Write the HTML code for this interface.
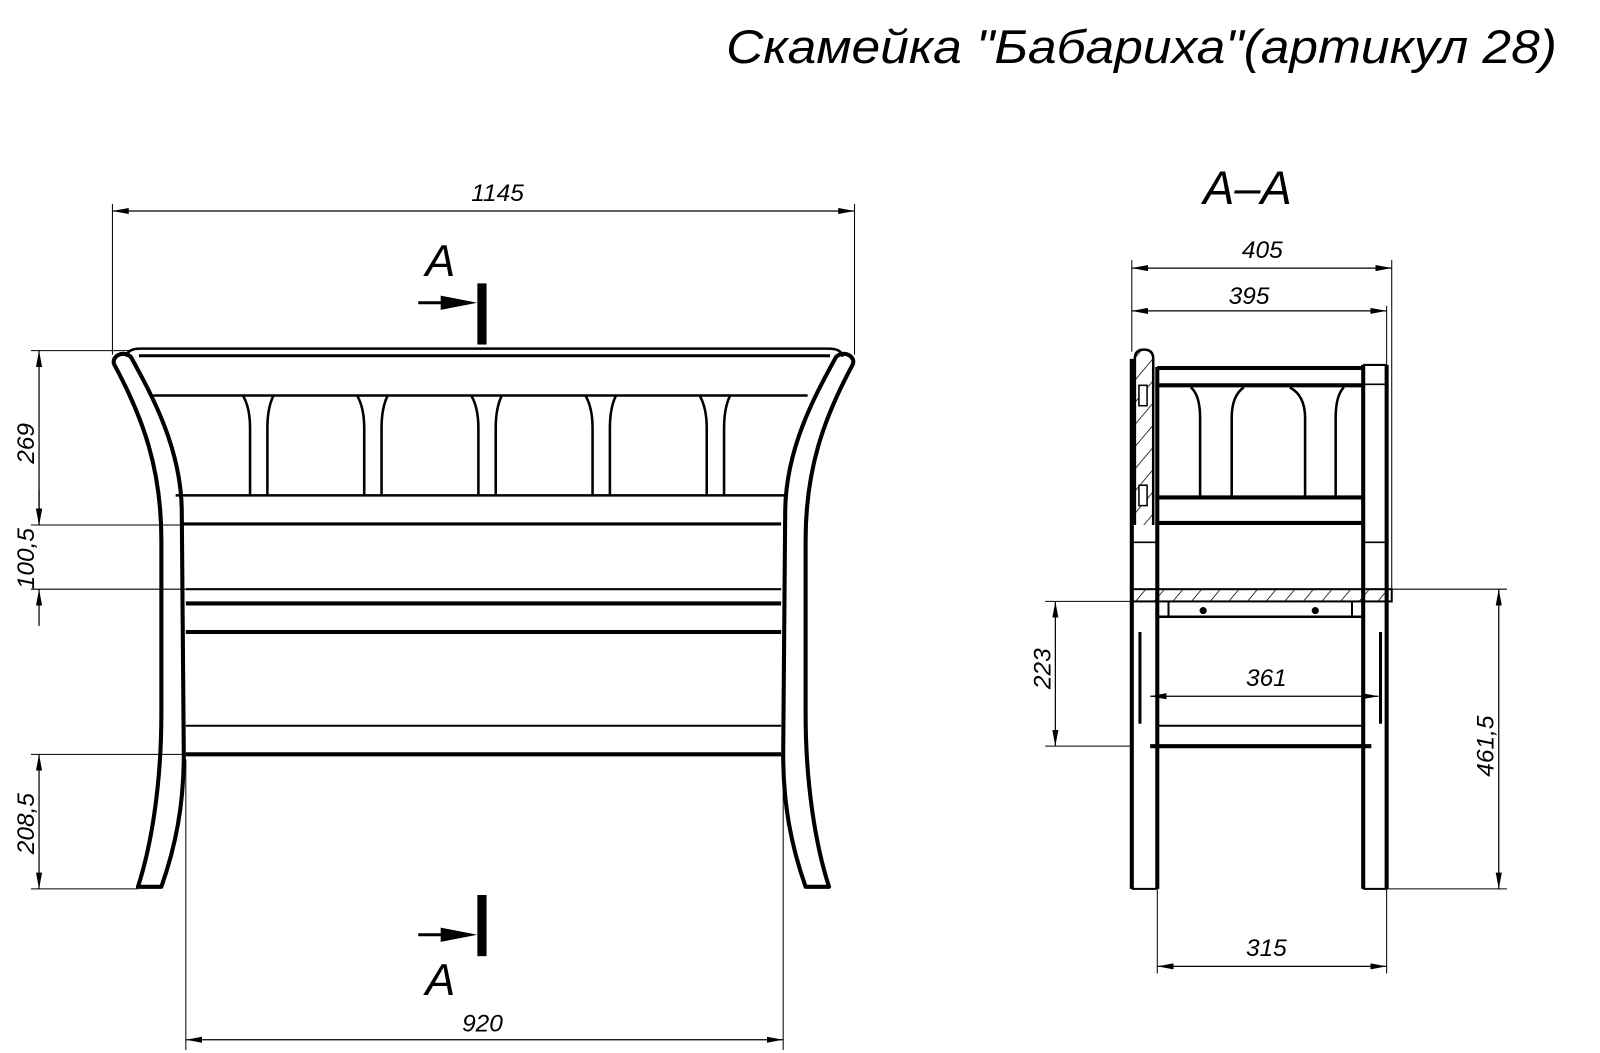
<!DOCTYPE html>
<html><head><meta charset="utf-8"><style>
html,body{margin:0;padding:0;background:#fff;}
svg{display:block;}
text{font-family:"Liberation Sans","DejaVu Sans",sans-serif;font-style:italic;fill:#000;}
</style></head><body>
<svg width="1600" height="1053" viewBox="0 0 1569 1033" xmlns="http://www.w3.org/2000/svg">
<defs>
<marker id="ar" viewBox="0 0 16 6" refX="16" refY="3" markerWidth="16" markerHeight="6" markerUnits="userSpaceOnUse" orient="auto-start-reverse"><path d="M0,0 L16,3 L0,6 z" fill="#000"/></marker>
<pattern id="h" width="14" height="14" patternUnits="userSpaceOnUse" patternTransform="rotate(40)"><line x1="0" y1="0" x2="0" y2="14" stroke="#000" stroke-width="1.5"/></pattern>
<g id="leg">
<path d="M112,358 C140,410 158,460 158,530 L158,700 C158,770 148,830 135,870 L158,870 C172,830 180,790 180,740 L178,500 C177,440 150,390 128,350 C120,343 108,350 112,358 Z" fill="none" stroke="#000" stroke-width="4" stroke-linejoin="round"/>
</g>
</defs>

<text x="712" y="62" font-size="46" textLength="815" lengthAdjust="spacingAndGlyphs">Скамейка "Бабариха"(артикул 28)</text>

<!-- FRONT VIEW -->
<g stroke="#000" fill="none">
<line x1="110" y1="200" x2="110" y2="348" stroke-width="1"/>
<line x1="838" y1="200" x2="838" y2="348" stroke-width="1"/>
<line x1="110" y1="207" x2="838" y2="207" stroke-width="1.2" marker-start="url(#ar)" marker-end="url(#ar)"/>
<path d="M138,342 L812,342 Q826,342 826,350" stroke-width="2.5"/>
<path d="M138,342 Q124,342 124,350" stroke-width="2.5"/>
<line x1="136" y1="349" x2="814" y2="349" stroke-width="3"/>
<line x1="150" y1="388" x2="792" y2="388" stroke-width="2.5"/>
<line x1="172" y1="486" x2="770" y2="486" stroke-width="2.5"/>
<line x1="178" y1="514" x2="766" y2="514" stroke-width="3"/>
<line x1="182" y1="578" x2="766" y2="578" stroke-width="2"/>
<line x1="182" y1="592" x2="766" y2="592" stroke-width="4"/>
<line x1="182" y1="620" x2="766" y2="620" stroke-width="4"/>
<line x1="182" y1="712" x2="766" y2="712" stroke-width="2"/>
<line x1="182" y1="740" x2="766" y2="740" stroke-width="4"/>
<g stroke-width="2.5">
<path d="M238,388 Q245,400 245,420 L245,486"/><path d="M268,388 Q262,400 262,420 L262,486"/>
<path d="M350,388 Q357,400 357,420 L357,486"/><path d="M380,388 Q374,400 374,420 L374,486"/>
<path d="M462,388 Q469,400 469,420 L469,486"/><path d="M492,388 Q486,400 486,420 L486,486"/>
<path d="M574,388 Q581,400 581,420 L581,486"/><path d="M604,388 Q598,400 598,420 L598,486"/>
<path d="M686,388 Q693,400 693,420 L693,486"/><path d="M716,388 Q710,400 710,420 L710,486"/>
</g>
</g>
<use href="#leg"/>
<use href="#leg" transform="translate(948,0) scale(-1,1)"/>

<g stroke="#000" fill="none" stroke-width="1">
<line x1="30" y1="344" x2="128" y2="344"/>
<line x1="30" y1="515" x2="178" y2="515"/>
<line x1="30" y1="578" x2="182" y2="578"/>
<line x1="30" y1="740" x2="182" y2="740"/>
<line x1="30" y1="872" x2="135" y2="872"/>
<line x1="38" y1="344" x2="38" y2="515" stroke-width="1.2" marker-start="url(#ar)" marker-end="url(#ar)"/>
<line x1="38" y1="480" x2="38" y2="515" stroke-width="1.2" marker-end="url(#ar)"/>
<line x1="38" y1="614" x2="38" y2="578" stroke-width="1.2" marker-end="url(#ar)"/>
<line x1="38" y1="740" x2="38" y2="872" stroke-width="1.2" marker-start="url(#ar)" marker-end="url(#ar)"/>
<line x1="182" y1="745" x2="182" y2="1030"/>
<line x1="768" y1="745" x2="768" y2="1030"/>
<line x1="182" y1="1020" x2="768" y2="1020" stroke-width="1.2" marker-start="url(#ar)" marker-end="url(#ar)"/>
</g>
<g font-size="24">
<text x="462" y="197">1145</text>
<text x="453" y="1012">920</text>
<text transform="translate(33,455) rotate(-90)">269</text>
<text transform="translate(33,578) rotate(-90)">100,5</text>
<text transform="translate(33,838) rotate(-90)">208,5</text>
</g>
<text x="417" y="271" font-size="44">A</text>
<line x1="410" y1="297" x2="440" y2="297" stroke="#000" stroke-width="3"/>
<path d="M432,290 L468,297 L432,304 Z" fill="#000"/>
<rect x="468" y="278" width="9" height="60" fill="#000"/>
<line x1="410" y1="917" x2="440" y2="917" stroke="#000" stroke-width="3"/>
<path d="M432,910 L468,917 L432,924 Z" fill="#000"/>
<rect x="468" y="878" width="9" height="60" fill="#000"/>
<text x="417" y="976" font-size="44">A</text>

<!-- SECTION A-A -->
<text x="1180" y="200" font-size="46">A–A</text>
<g stroke="#000" fill="none">
<line x1="1110" y1="255" x2="1110" y2="345" stroke-width="1"/>
<line x1="1365" y1="255" x2="1365" y2="578" stroke-width="1"/>
<line x1="1360" y1="300" x2="1360" y2="358" stroke-width="1"/>
<line x1="1110" y1="263" x2="1365" y2="263" stroke-width="1.2" marker-start="url(#ar)" marker-end="url(#ar)"/>
<line x1="1110" y1="305" x2="1360" y2="305" stroke-width="1.2" marker-start="url(#ar)" marker-end="url(#ar)"/>
<path d="M1113,515 L1113,352 Q1113,343 1122,343 Q1131,343 1131,352 L1131,515" fill="url(#h)" stroke-width="2.5"/>
<rect x="1117" y="378" width="8" height="20" stroke-width="1.5" fill="#fff"/>
<rect x="1117" y="476" width="8" height="20" stroke-width="1.5" fill="#fff"/>
<line x1="1110" y1="352" x2="1110" y2="872" stroke-width="4"/>
<line x1="1135" y1="360" x2="1135" y2="872" stroke-width="4"/>
<line x1="1110" y1="872" x2="1135" y2="872" stroke-width="2"/>
<line x1="1110" y1="532" x2="1135" y2="532" stroke-width="1.5"/>
<line x1="1337" y1="358" x2="1337" y2="872" stroke-width="4"/>
<line x1="1360" y1="358" x2="1360" y2="872" stroke-width="4"/>
<line x1="1337" y1="358" x2="1360" y2="358" stroke-width="2"/>
<line x1="1337" y1="872" x2="1360" y2="872" stroke-width="2"/>
<line x1="1337" y1="377" x2="1360" y2="377" stroke-width="1.5"/>
<line x1="1337" y1="532" x2="1360" y2="532" stroke-width="1.5"/>
<line x1="1135" y1="361" x2="1337" y2="361" stroke-width="4"/>
<line x1="1135" y1="378" x2="1337" y2="378" stroke-width="4"/>
<line x1="1135" y1="488" x2="1337" y2="488" stroke-width="4"/>
<line x1="1135" y1="513" x2="1337" y2="513" stroke-width="4"/>
<g stroke-width="2.5">
<path d="M1168,380 Q1177,388 1177,410 L1177,488"/><path d="M1220,380 Q1208,388 1208,410 L1208,488"/>
<path d="M1265,380 Q1280,388 1280,410 L1280,488"/><path d="M1318,380 Q1310,388 1310,410 L1310,488"/>
</g>
<rect x="1110" y="578" width="255" height="12" fill="url(#h)" stroke-width="2"/>
<line x1="1135" y1="605" x2="1337" y2="605" stroke-width="2.5"/>
<line x1="1146" y1="590" x2="1146" y2="605" stroke-width="2"/>
<line x1="1326" y1="590" x2="1326" y2="605" stroke-width="2"/>
<line x1="1118" y1="620" x2="1118" y2="710" stroke-width="3"/>
<line x1="1354" y1="620" x2="1354" y2="710" stroke-width="3"/>
<line x1="1135" y1="712" x2="1337" y2="712" stroke-width="2"/>
<line x1="1128" y1="732" x2="1345" y2="732" stroke-width="4"/>
<line x1="1025" y1="590" x2="1110" y2="590" stroke-width="1"/>
<line x1="1025" y1="732" x2="1110" y2="732" stroke-width="1"/>
<line x1="1035" y1="590" x2="1035" y2="732" stroke-width="1.2" marker-start="url(#ar)" marker-end="url(#ar)"/>
<line x1="1128" y1="683" x2="1352" y2="683" stroke-width="1.2" marker-start="url(#ar)" marker-end="url(#ar)"/>
<line x1="1365" y1="578" x2="1478" y2="578" stroke-width="1"/>
<line x1="1360" y1="872" x2="1478" y2="872" stroke-width="1"/>
<line x1="1470" y1="578" x2="1470" y2="872" stroke-width="1.2" marker-start="url(#ar)" marker-end="url(#ar)"/>
<line x1="1135" y1="872" x2="1135" y2="955" stroke-width="1"/>
<line x1="1360" y1="872" x2="1360" y2="955" stroke-width="1"/>
<line x1="1135" y1="948" x2="1360" y2="948" stroke-width="1.2" marker-start="url(#ar)" marker-end="url(#ar)"/>
</g>
<circle cx="1180" cy="599" r="3.5" fill="#000"/>
<circle cx="1290" cy="599" r="3.5" fill="#000"/>
<g font-size="24">
<text x="1218" y="253">405</text>
<text x="1205" y="298">395</text>
<text x="1222" y="673">361</text>
<text x="1222" y="938">315</text>
<text transform="translate(1030,676) rotate(-90)">223</text>
<text transform="translate(1465,762) rotate(-90)">461,5</text>
</g>
</svg>
</body></html>
